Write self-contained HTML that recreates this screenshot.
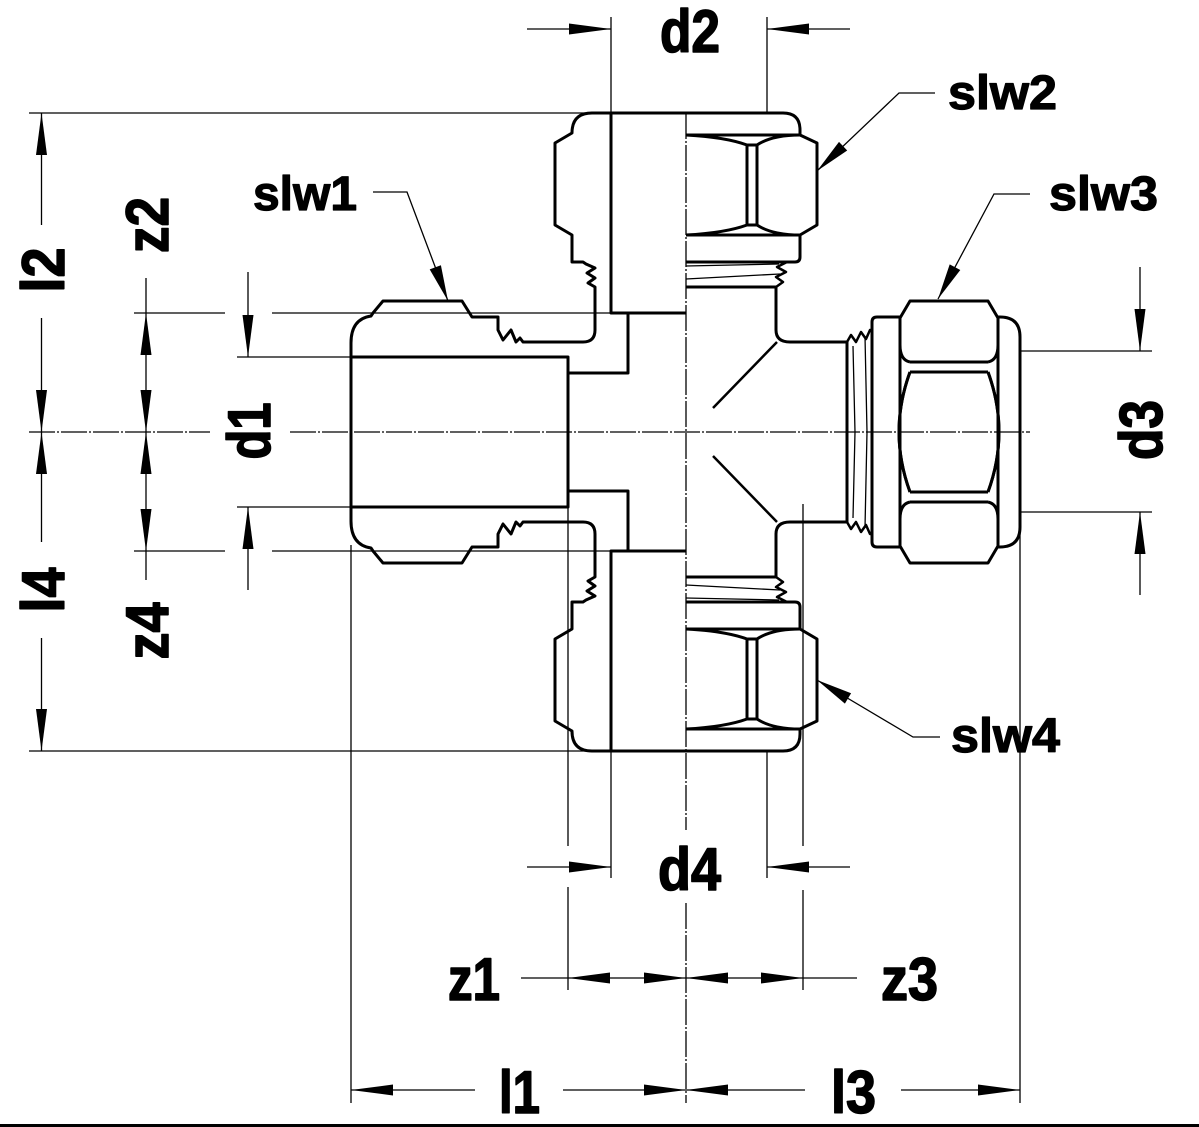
<!DOCTYPE html>
<html>
<head>
<meta charset="utf-8">
<style>
html,body{margin:0;padding:0;background:#fff;}
svg{display:block;}
text{font-family:"Liberation Sans",Arial,sans-serif;font-weight:bold;fill:#000;stroke:#000;stroke-width:1.6;stroke-linejoin:round;}
text.s{stroke-width:1.2;}
</style>
</head>
<body>
<svg width="1199" height="1127" viewBox="0 0 1199 1127" xmlns="http://www.w3.org/2000/svg">
<rect x="0" y="0" width="1199" height="1127" fill="#fff"/>

<!-- centerlines -->
<g stroke="#000" stroke-width="1.3" fill="none" stroke-dasharray="26 2 2 2">
  <line x1="29" y1="432" x2="210" y2="432"/>
  <line x1="290" y1="432" x2="1030" y2="432"/>
  <line x1="686" y1="113" x2="686" y2="830"/>
  <line x1="686" y1="903" x2="686" y2="1103"/>
</g>

<!-- thin extension / dimension lines -->
<g stroke="#000" stroke-width="1.3" fill="none">
  <line x1="29" y1="113" x2="592" y2="113"/>
  <line x1="29" y1="751" x2="592" y2="751"/>
  <line x1="134" y1="313" x2="225" y2="313"/>
  <line x1="272" y1="313" x2="611" y2="313"/>
  <line x1="134" y1="551" x2="225" y2="551"/>
  <line x1="272" y1="551" x2="611" y2="551"/>
  <line x1="237" y1="357" x2="351" y2="357"/>
  <line x1="237" y1="507" x2="351" y2="507"/>
  <!-- d2 -->
  <line x1="611" y1="17" x2="611" y2="113"/>
  <line x1="767" y1="17" x2="767" y2="113"/>
  <line x1="527" y1="29" x2="611" y2="29"/>
  <line x1="767" y1="29" x2="850" y2="29"/>
  <!-- d4 -->
  <line x1="611" y1="751" x2="611" y2="878"/>
  <line x1="767" y1="751" x2="767" y2="878"/>
  <line x1="527" y1="867" x2="611" y2="867"/>
  <line x1="767" y1="867" x2="850" y2="867"/>
  <!-- z1 / z3 ext -->
  <line x1="568" y1="507" x2="568" y2="846"/>
  <line x1="568" y1="887" x2="568" y2="990"/>
  <line x1="803" y1="504" x2="803" y2="846"/>
  <line x1="803" y1="890" x2="803" y2="990"/>
  <line x1="521" y1="978" x2="857" y2="978"/>
  <!-- l1 / l3 -->
  <line x1="351" y1="545" x2="351" y2="1103"/>
  <line x1="1020" y1="527" x2="1020" y2="1103"/>
  <line x1="351" y1="1090" x2="475" y2="1090"/>
  <line x1="563" y1="1090" x2="805" y2="1090"/>
  <line x1="901" y1="1090" x2="1020" y2="1090"/>
  <!-- l2 / l4 -->
  <line x1="41.5" y1="113" x2="41.5" y2="225"/>
  <line x1="41.5" y1="318" x2="41.5" y2="542"/>
  <line x1="41.5" y1="638" x2="41.5" y2="751"/>
  <!-- z2 / z4 -->
  <line x1="146" y1="278" x2="146" y2="580"/>
  <!-- d1 -->
  <line x1="248" y1="272" x2="248" y2="357"/>
  <line x1="248" y1="507" x2="248" y2="590"/>
  <!-- d3 -->
  <line x1="1020" y1="351" x2="1152" y2="351"/>
  <line x1="1020" y1="512" x2="1152" y2="512"/>
  <line x1="1140" y1="267" x2="1140" y2="351"/>
  <line x1="1140" y1="512" x2="1140" y2="595"/>
  <!-- leaders -->
  <polyline points="373,192 407,192 448,301"/>
  <polyline points="935,93 899,93 817,171"/>
  <polyline points="1030,194 994,194 938,299"/>
  <polyline points="940,737 913,737 817,680"/>
</g>

<!-- arrowheads -->
<g fill="#000" stroke="none">
  <polygon points="41.5,113 36,155 47,155"/>
  <polygon points="41.5,432 36,390 47,390"/>
  <polygon points="41.5,432 36,474 47,474"/>
  <polygon points="41.5,751 36,709 47,709"/>
  <polygon points="146,313 140.5,355 151.5,355"/>
  <polygon points="146,432 140.5,390 151.5,390"/>
  <polygon points="146,432 140.5,474 151.5,474"/>
  <polygon points="146,551 140.5,509 151.5,509"/>
  <polygon points="248,357 242.5,315 253.5,315"/>
  <polygon points="248,507 242.5,549 253.5,549"/>
  <polygon points="1140,351 1134.5,309 1145.5,309"/>
  <polygon points="1140,512 1134.5,554 1145.5,554"/>
  <polygon points="611,29 569,23.5 569,34.5"/>
  <polygon points="767,29 809,23.5 809,34.5"/>
  <polygon points="611,867 569,861.5 569,872.5"/>
  <polygon points="767,867 809,861.5 809,872.5"/>
  <polygon points="568,978 610,972.5 610,983.5"/>
  <polygon points="686,978 644,972.5 644,983.5"/>
  <polygon points="686,978 728,972.5 728,983.5"/>
  <polygon points="803,978 761,972.5 761,983.5"/>
  <polygon points="351,1090 393,1084.5 393,1095.5"/>
  <polygon points="686,1090 644,1084.5 644,1095.5"/>
  <polygon points="686,1090 728,1084.5 728,1095.5"/>
  <polygon points="1020,1090 978,1084.5 978,1095.5"/>
  <polygon points="448,301 429.7,269.4 440.9,265.2"/>
  <polygon points="817,171 839,141.9 847.2,150.5"/>
  <polygon points="938,299 949.7,264.4 960.3,270"/>
  <polygon points="817,680 851.1,693.2 844.9,703.6"/>
</g>

<!-- fitting geometry: top half, mirrored for bottom half -->
<g id="half" stroke="#000" stroke-width="3" fill="none" stroke-linejoin="round">
  <path d="M351,432 L351,343 Q351,319 371,316 L373,313 L383,301 L462,301 L472,317 L498,317 L498,330 L503,340 L511,330 L516,342 L520,338 L523,342 L583,342 Q595,342 595,330 L595,287 L588,283 L595,278 L587,273 L595,268 L586,264 L583,262 L572,262 L572,235 L555,225 L555,143 L572,133 Q572,113 592,113 L783,113 Q800,113 800,130 L800,135"/>
  <path d="M351,357 L568,357 L568,432"/>
  <path d="M611,113 L611,313 L628,313 L628,373 L568,373"/>
  <line x1="628" y1="313" x2="686" y2="313"/>
  <path d="M686,135 L800,135 L817,143 L817,225 L800,235 L686,235"/>
  <path d="M800,235 L800,257 Q800,262 795,262 L686,262"/>
  <path d="M747,145 L747,225 M757,145 L757,225 M747,145 L757,145 M747,225 L757,225"/>
  <path d="M686,135 Q725,137 747,145 M757,145 Q772,135 800,135 M686,235 Q725,233 747,225 M757,225 Q772,235 800,235"/>
  <line x1="686" y1="287" x2="776" y2="287"/>
  <path d="M787,262 L777,267 L786,272 L776,277 L783,282 L776,287" stroke-width="2.5"/>
  <path d="M686,266 L779,264 M686,279 L780,274" stroke-width="1.3"/>
  <path d="M776,287 L776,330 Q776,342 790,342 L847,342"/>
  <line x1="777" y1="342" x2="713" y2="408" stroke-width="2.5"/>
  <line x1="847" y1="342" x2="847" y2="432"/>
  <path d="M847,342 L851,335 L856,342 L861,332 L866,339 L870,330 L872,330" stroke-width="2.5"/>
  <path d="M853,346 L855,432 M865,336 L867,432" stroke-width="1.3"/>
  <path d="M872,432 L872,322 Q872,317 877,317 L900,317"/>
  <path d="M900,432 L900,318 L910,301 L988,301 L998,318 L998,432"/>
  <path d="M910,362 L988,362 M910,372 L988,372"/>
  <path d="M900,345 Q900,360 910,362 M998,345 Q998,360 988,362"/>
  <path d="M910,372 Q888,432 910,492 M988,372 Q1010,432 988,492"/>
  <path d="M998,317 L1000,317 Q1020,317 1020,337 L1020,432"/>
</g>
<use href="#half" transform="matrix(1,0,0,-1,0,864)"/>

<!-- labels -->
<text x="660" y="52" font-size="60" textLength="60" lengthAdjust="spacingAndGlyphs">d2</text>
<text x="658" y="890" font-size="60" textLength="63" lengthAdjust="spacingAndGlyphs">d4</text>
<text x="448" y="1000" font-size="60" textLength="52" lengthAdjust="spacingAndGlyphs">z1</text>
<text x="881" y="1000" font-size="60" textLength="57" lengthAdjust="spacingAndGlyphs">z3</text>
<text x="499" y="1113" font-size="60" textLength="41" lengthAdjust="spacingAndGlyphs">l1</text>
<text x="831" y="1113" font-size="60" textLength="45" lengthAdjust="spacingAndGlyphs">l3</text>

<text class="s" x="253" y="210" font-size="48" textLength="104" lengthAdjust="spacingAndGlyphs">slw1</text>
<text class="s" x="948" y="109" font-size="48" textLength="109" lengthAdjust="spacingAndGlyphs">slw2</text>
<text class="s" x="1049" y="210" font-size="48" textLength="109" lengthAdjust="spacingAndGlyphs">slw3</text>
<text class="s" x="951" y="752" font-size="48" textLength="109" lengthAdjust="spacingAndGlyphs">slw4</text>

<text transform="translate(64,270) rotate(-90)" text-anchor="middle" font-size="60" textLength="45" lengthAdjust="spacingAndGlyphs">l2</text>
<text transform="translate(168,225) rotate(-90)" text-anchor="middle" font-size="60" textLength="56" lengthAdjust="spacingAndGlyphs">z2</text>
<text transform="translate(270,431) rotate(-90)" text-anchor="middle" font-size="60" textLength="57" lengthAdjust="spacingAndGlyphs">d1</text>
<text transform="translate(64,590) rotate(-90)" text-anchor="middle" font-size="60" textLength="45" lengthAdjust="spacingAndGlyphs">l4</text>
<text transform="translate(168,631) rotate(-90)" text-anchor="middle" font-size="60" textLength="57" lengthAdjust="spacingAndGlyphs">z4</text>
<text transform="translate(1162,430) rotate(-90)" text-anchor="middle" font-size="60" textLength="60" lengthAdjust="spacingAndGlyphs">d3</text>

<rect x="0" y="1124" width="1199" height="3" fill="#000"/>
</svg>
</body>
</html>
